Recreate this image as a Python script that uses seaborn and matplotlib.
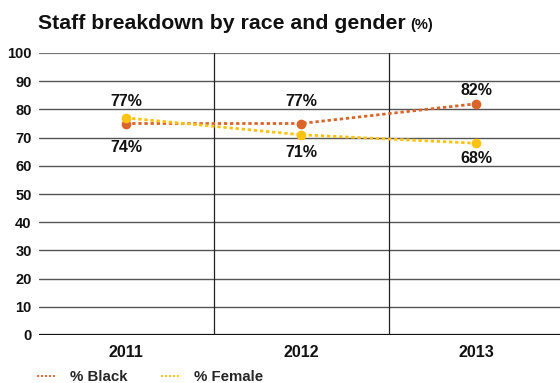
import matplotlib
matplotlib.use("Agg")
import matplotlib.pyplot as plt
from matplotlib.lines import Line2D
import seaborn as sns
import pandas as pd

years = ["2011", "2012", "2013"]
series_names = ["% Black", "% Female"]
black = [75, 75, 82]
female = [77, 71, 68]
upper_labels = ["77%", "77%", "82%"]
lower_labels = ["74%", "71%", "68%"]
y_ticks = [0, 10, 20, 30, 40, 50, 60, 70, 80, 90, 100]

colors = {"% Black": "#D9652B", "% Female": "#FFC20E"}

# label offsets (points) above / below the points
upper_off = [12, 16, 9.5]
lower_off = [-17, -13, -11]

df = pd.DataFrame({
    "year": years * 2,
    "value": black + female,
    "series": [series_names[0]] * 3 + [series_names[1]] * 3,
})

sns.set_theme(style="white")
plt.rcParams["font.family"] = ["Liberation Sans", "DejaVu Sans"]

fig = plt.figure(figsize=(5.6, 3.83), dpi=100)
ax = fig.add_axes([38.6 / 560, 48 / 383, (560 - 38.6) / 560, (335 - 53) / 383])

for name in series_names:
    sub = df[df["series"] == name]
    sns.lineplot(data=sub, x="year", y="value", ax=ax, color=colors[name],
                 linestyle=(0, (1.2, 1.0)), linewidth=2.0, marker="o",
                 markersize=7, markeredgewidth=0, legend=False, sort=False, zorder=3)

ax.set_xlim(-0.5, -0.5 + (560 - 38.6) / 175)
ax.set_ylim(0, 100)
ax.set_yticks(y_ticks)
ax.set_xticks(range(len(years)))
ax.set_xticklabels(years)
ax.set_xlabel("")
ax.set_ylabel("")

for y in y_ticks:
    if y == 0:
        ax.axhline(y, color="#111111", linewidth=1.6, zorder=1)
    elif y == 100:
        ax.axhline(y, color="#777777", linewidth=1.6, zorder=1)
    else:
        ax.axhline(y, color="#555555", linewidth=1.0, zorder=1)
for xb in [0.5, 1.5]:
    ax.axvline(xb, color="#222222", linewidth=0.9, zorder=1)

for s in ax.spines.values():
    s.set_visible(False)
ax.tick_params(axis="y", length=0, pad=5)
ax.tick_params(axis="x", length=0, pad=7)
for lab in ax.get_yticklabels():
    lab.set_fontweight("bold")
    lab.set_fontsize(10.5)
    lab.set_color("#111111")
for lab in ax.get_xticklabels():
    lab.set_fontweight("bold")
    lab.set_fontsize(11.5)
    lab.set_color("#111111")

for i in range(len(years)):
    top = max(black[i], female[i])
    bot = min(black[i], female[i])
    ax.annotate(upper_labels[i], (i, top), xytext=(0, upper_off[i]), textcoords="offset points",
                ha="center", va="center", fontsize=11.5, fontweight="bold", color="#111111")
    ax.annotate(lower_labels[i], (i, bot), xytext=(0, lower_off[i]), textcoords="offset points",
                ha="center", va="center", fontsize=11.5, fontweight="bold", color="#111111")

fig.text(37.5 / 560, 1 - 29 / 383, "Staff breakdown by race and gender",
         fontsize=15.3, fontweight="bold", va="baseline", ha="left", color="#111111")
fig.text(410 / 560, 1 - 29 / 383, "(%)", fontsize=10.5, fontweight="bold",
         va="baseline", ha="left", color="#111111")

handles = [Line2D([0], [0], color=colors[n], linestyle=(0, (1.2, 1.0)), linewidth=1.3)
           for n in series_names]
leg = fig.legend(handles, series_names, loc="center left",
                 bbox_to_anchor=(23 / 560, 1 - 377 / 383), ncol=2, frameon=False,
                 handlelength=1.25, handletextpad=1.0, columnspacing=2.2,
                 prop={"weight": "bold", "size": 10.8})

fig.savefig("out.png", dpi=100)
